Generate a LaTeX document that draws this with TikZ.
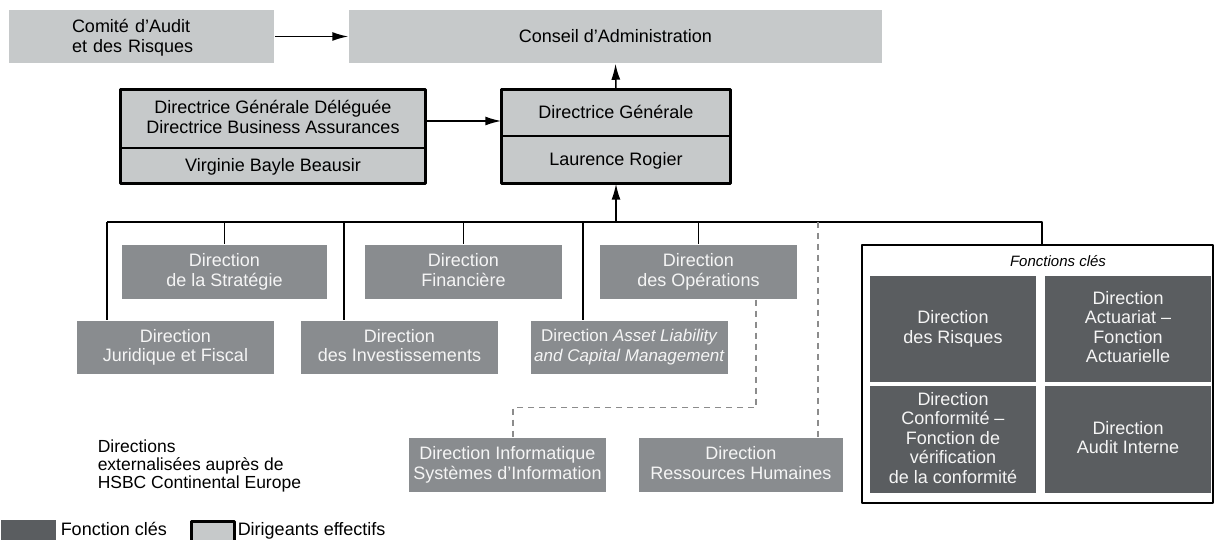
\documentclass[tikz,border=0pt]{standalone}
\usepackage{fontspec}
\setmainfont{Liberation Sans}
\usepackage{tikz}
\usetikzlibrary{arrows.meta}
\newcommand\etai{\vrule height 15.5bp depth 3.9bp width 0bp}

\begin{document}
\begin{tikzpicture}[>={Latex[length=16bp,width=9bp]},line join=bevel,
  every node/.style={inner sep=0bp,font=\fontsize{18bp}{19.5bp}\selectfont,
    execute at begin node=\etai,execute at end node=\etai},
  organe/.style={fill=clair,minimum height=53bp},
  dirige/.style={fill=clair,draw=black,line width=1.5bp,align=center},
  direction/.style={fill=moyen,text=blanc,align=center,minimum width=197bp,minimum height=54bp},
  cle/.style={fill=fonce,text=blanc,align=center,minimum width=166bp,minimum height=106bp},
  pointille/.style={draw=gristrait,line width=1.5bp,dash pattern=on 6bp off 5bp}]
  \pgfsetlinewidth{1.5bp}
  \definecolor{clair}{rgb}{0.776,0.788,0.792}
  \definecolor{moyen}{rgb}{0.537,0.549,0.561}
  \definecolor{fonce}{rgb}{0.353,0.365,0.376}
  \definecolor{blanc}{rgb}{0.96,0.96,0.96}
  \definecolor{gristrait}{rgb}{0.55,0.55,0.55}
  \useasboundingbox (0bp,0bp) rectangle (1214bp,540bp);
  \clip (0bp,0bp) rectangle (1214bp,540bp);
%%
  % Node: comite
  \node[organe,minimum width=265bp,text width=139bp,inner xsep=63bp,align=left] (comite) at (141.5bp,503.5bp) {Comité d’Audit\\et des Risques};
  % Node: conseil
  \node[organe,minimum width=533bp] (conseil) at (615.5bp,503.5bp) {Conseil d’Administration};
  % Node: dgd
  \node[dirige,minimum width=304bp,minimum height=58bp] (dgdhaut) at (273bp,421bp) {Directrice Générale Déléguée\\Directrice Business Assurances};
  \node[dirige,minimum width=304bp,minimum height=35bp] (dgdbas) at (273bp,374.5bp) {Virginie Bayle Beausir};
  \draw[line width=3bp] (dgdhaut.north west) rectangle (dgdbas.south east);
  % Node: dg
  \node[dirige,minimum width=228bp,minimum height=46bp] (dghaut) at (616bp,427bp) {Directrice Générale};
  \node[dirige,minimum width=228bp,minimum height=47bp] (dgbas) at (616bp,380.5bp) {Laurence Rogier};
  \draw[line width=3bp] (dghaut.north west) rectangle (dgbas.south east);
  % Edge: comite -> conseil
  \draw [->] (comite.east) -- (conseil.west);
  % Edge: dgd -> dg
  \draw [->] ([yshift=-2bp]dgdhaut.east) -- ([yshift=-2bp]dgdhaut.east -| dghaut.west);
  % Edge: dg -> conseil
  \draw [->] (dghaut.north) -- (conseil.south);
%
  % Node: cles
  \node[draw=black,line width=1.5bp,minimum width=351bp,minimum height=258bp] (cles) at (1037.5bp,166bp) {};
  \node[font=\itshape\fontsize{15bp}{16bp}\selectfont] (clestitre) at (1058bp,279bp) {Fonctions clés};
  \node[cle] (risques) at (953bp,211bp) {Direction\\des Risques};
  \node[cle] (actuariat) at (1128bp,211bp) {Direction\\Actuariat –\\Fonction\\Actuarielle};
  \node[cle,minimum height=107bp] (conformite) at (953bp,100.5bp) {Direction\\Conformité –\\Fonction de\\vérification\\de la conformité};
  \node[cle,minimum height=107bp] (audit) at (1128bp,100.5bp) {Direction\\Audit Interne};
%
  % Node: directions
  \node[direction,minimum width=205bp] (strategie) at (224.5bp,268bp) {Direction\\de la Stratégie};
  \node[direction] (financiere) at (463.5bp,268bp) {Direction\\Financière};
  \node[direction] (operations) at (698.5bp,268bp) {Direction\\des Opérations};
  \node[direction,minimum height=53bp] (juridique) at (175.5bp,192.5bp) {Direction\\Juridique et Fiscal};
  \node[direction,minimum height=53bp] (investissements) at (399.5bp,192.5bp) {Direction\\des Investissements};
  \node[direction,minimum height=53bp,font=\fontsize{17bp}{19.5bp}\selectfont] (alm) at (629.5bp,192.5bp) {Direction \textit{Asset Liability}\\\textit{and Capital Management}};
  \node[direction] (informatique) at (507.5bp,75bp) {Direction Informatique\\Systèmes d’Information};
  \node[direction,minimum width=204bp] (rh) at (741bp,75bp) {Direction\\Ressources Humaines};
%
  % Edge: bus -> dg
  \coordinate (bus) at (616bp,318bp);
  \coordinate (busjur) at (107bp,318bp);
  \coordinate (businv) at (344bp,318bp);
  \coordinate (busalm) at (583bp,318bp);
  \coordinate (busext) at (818bp,318bp);
  \coordinate (buscles) at (1042bp,318bp);
  \draw (busjur) -- (buscles) -- (buscles |- cles.north);
  \draw [->] (bus) -- (dgbas.south);
  \draw (strategie.north |- bus) -- (strategie.north);
  \draw (financiere.north |- bus) -- (financiere.north);
  \draw (operations.north |- bus) -- (operations.north);
  \draw (busjur) -- (busjur |- juridique.north);
  \draw (businv) -- (businv |- investissements.north);
  \draw (busalm) -- (busalm |- alm.north);
  % Edge: externes
  \draw [pointille] ([xshift=57.5bp]operations.south) -- ++(0bp,-108bp) -| ([xshift=5.5bp]informatique.north);
  \draw [pointille] (busext) -- (busext |- rh.north);
  \node[anchor=west,align=left,font=\fontsize{17.5bp}{18bp}\selectfont] (externes) at (97bp,74bp) {Directions\\externalisées auprès de\\HSBC Continental Europe};
%
  % Node: legende
  \node[fill=fonce,minimum width=55bp,minimum height=26bp,anchor=north west] (legcle) at (0bp,21bp) {};
  \node[anchor=west] (legcletxt) at (60bp,10bp) {Fonction clés};
  \node[fill=clair,draw=black,line width=3bp,minimum width=43bp,minimum height=26bp,anchor=north west] (legdir) at (190bp,20bp) {};
  \node[anchor=west] (legdirtxt) at (237bp,10bp) {Dirigeants effectifs};
%
\end{tikzpicture}
\end{document}
